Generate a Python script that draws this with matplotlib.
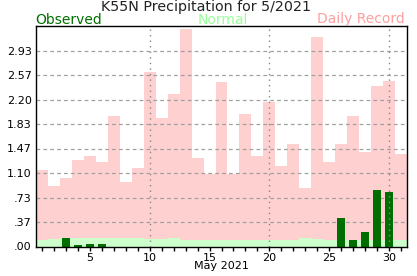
import matplotlib.pyplot as plt
import numpy as np

days = list(range(1, 32))
record = [1.14, 0.90, 1.02, 1.29, 1.35, 1.27, 1.95, 0.96, 1.17, 2.61,
          1.92, 2.28, 3.25, 1.33, 1.08, 2.46, 1.09, 1.98, 1.35, 2.17,
          1.21, 1.54, 0.87, 3.14, 1.27, 1.53, 1.96, 1.41, 2.40, 2.47, 1.38]
normal = [0.10, 0.11, 0.12, 0.12, 0.13, 0.13, 0.12, 0.13, 0.12, 0.11,
          0.11, 0.12, 0.10, 0.10, 0.10, 0.10, 0.09, 0.10, 0.09, 0.10,
          0.10, 0.10, 0.12, 0.11, 0.10, 0.10, 0.10, 0.10, 0.10, 0.10, 0.10]
observed = [0, 0, 0.12, 0.02, 0.04, 0.04, 0, 0, 0, 0,
            0, 0, 0, 0, 0, 0, 0, 0, 0, 0,
            0, 0, 0, 0, 0, 0.42, 0.09, 0.22, 0.84, 0.81, 0]
ytick_labels = ['.00', '.37', '.73', '1.10', '1.47', '1.83', '2.20', '2.57', '2.93']
ymax = 3.30

fig = plt.figure(figsize=(4.17, 2.76), dpi=100)
ax = fig.add_axes([36 / 417, 1 - 246.5 / 276, 371 / 417, 220.5 / 276])

ax.bar(days, record, width=1.0, color='#ffd0d0', zorder=1)
ax.bar(days, normal, width=1.0, color='#ccffcc', zorder=1.5)
ax.bar(days, observed, width=0.65, color='#006e00', zorder=3)

yt = np.arange(9) * ymax / 9
ax.set_yticks(yt)
ax.set_yticklabels(ytick_labels)
for y in yt[1:]:
    ax.axhline(y, color='#a0a0a0', linestyle=(0, (3, 2.5)), linewidth=0.9, zorder=2)
for x in [10, 20, 30]:
    ax.axvline(x, color='#888888', linestyle=(0, (1, 3)), linewidth=1, zorder=4)

ax.set_xlim(0.5, 31.5)
ax.set_ylim(0, ymax)
ax.set_xticks([5, 10, 15, 20, 25, 30])
ax.set_xticks(days, minor=True)
ax.tick_params(axis='x', which='both', length=3, width=1, labelsize=8, pad=1.5)
ax.tick_params(axis='y', length=0, labelsize=8, pad=3)
ax.set_xlabel('May 2021', fontsize=8, labelpad=-1)
for s in ax.spines.values():
    s.set_linewidth(1)
    s.set_zorder(5)

fig.text(206 / 417, 1 - 11 / 276, 'K55N Precipitation for 5/2021', ha='center', va='baseline',
         fontsize=10.3, color='#222222')
fig.text(35 / 417, 1 - 23.5 / 276, 'Observed', ha='left', va='baseline', fontsize=10, color='#007000')
fig.text(223 / 417, 1 - 23.5 / 276, 'Normal', ha='center', va='baseline', fontsize=10, color='#99ff99')
fig.text(405 / 417, 1 - 23.5 / 276, 'Daily Record', ha='right', va='baseline', fontsize=10, color='#ff9f9f')

fig.savefig('out.png', dpi=100)
